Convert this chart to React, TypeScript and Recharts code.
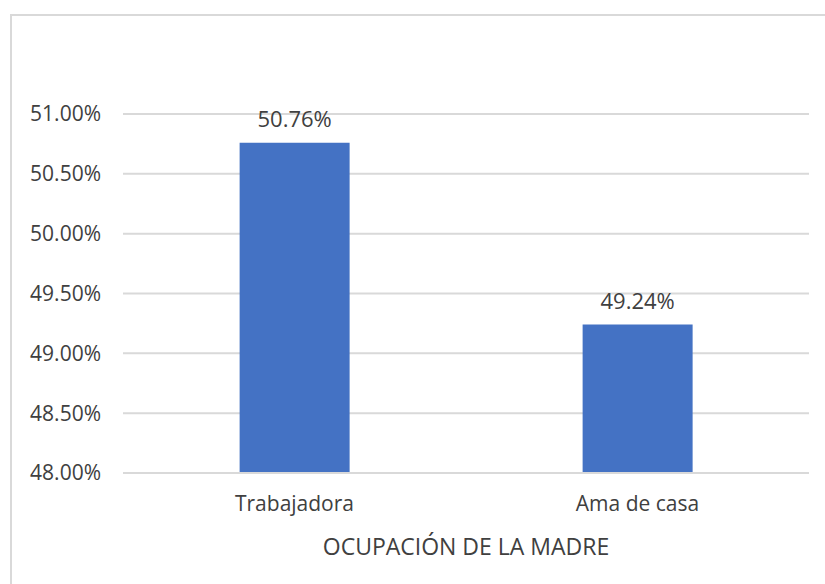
import React from 'react'
import { Bar, BarChart, CartesianGrid, LabelList, XAxis, YAxis } from 'recharts'

// Ocupación de la madre — porcentajes
const categories = ['Trabajadora', 'Ama de casa']
const percents   = [50.76, 49.24]
const yTicks     = [48, 48.5, 49, 49.5, 50, 50.5, 51]

const data = categories.map((name, i) => ({ name, value: percents[i] }))

const FONT = '"Open Sans", sans-serif'
const TEXT = '#404040'

const fmtPct = (v: number) => `${v.toFixed(2)}%`

export default function App() {
  return (
    <div style={{ position: 'absolute', left: 0, top: 0, width: 825, height: 584, background: '#fff', overflow: 'hidden' }}>
      {/* chart frame */}
      <div
        style={{
          position: 'absolute', left: 10, top: 14, width: 820, height: 600,
          border: '2px solid #d9d9d9', boxSizing: 'border-box',
        }}
      />
      <div style={{ position: 'absolute', left: 0, top: 0 }}>
        <BarChart
          width={825}
          height={584}
          data={data}
          margin={{ top: 114, right: 16, bottom: 0, left: 23 }}
          barCategoryGap="34%"
        >
          <CartesianGrid vertical={false} stroke="#d9d9d9" strokeWidth={2} />
          <XAxis
            dataKey="name"
            height={111}
            axisLine={{ stroke: '#d9d9d9', strokeWidth: 2 }}
            tickLine={false}
            tickSize={0}
            tickMargin={23}
            tick={{ fill: TEXT, fontSize: 21, fontFamily: FONT }}
            label={{ value: 'OCUPACIÓN DE LA MADRE', position: 'insideBottom', offset: 29, fill: TEXT, fontSize: 23, fontFamily: FONT }}
          />
          <YAxis
            width={100}
            domain={[48, 51]}
            ticks={yTicks}
            allowDataOverflow
            axisLine={false}
            tickLine={false}
            tickSize={0}
            tickMargin={22}
            tickFormatter={fmtPct}
            tick={{ fill: TEXT, fontSize: 21, fontFamily: FONT }}
          />
          <Bar dataKey="value" fill="#4472C4" isAnimationActive={false}>
            <LabelList
              dataKey="value"
              position="top"
              offset={16}
              formatter={(v: number) => fmtPct(v)}
              style={{ fill: TEXT, fontSize: 22, fontFamily: FONT }}
            />
          </Bar>
        </BarChart>
      </div>
    </div>
  )
}
